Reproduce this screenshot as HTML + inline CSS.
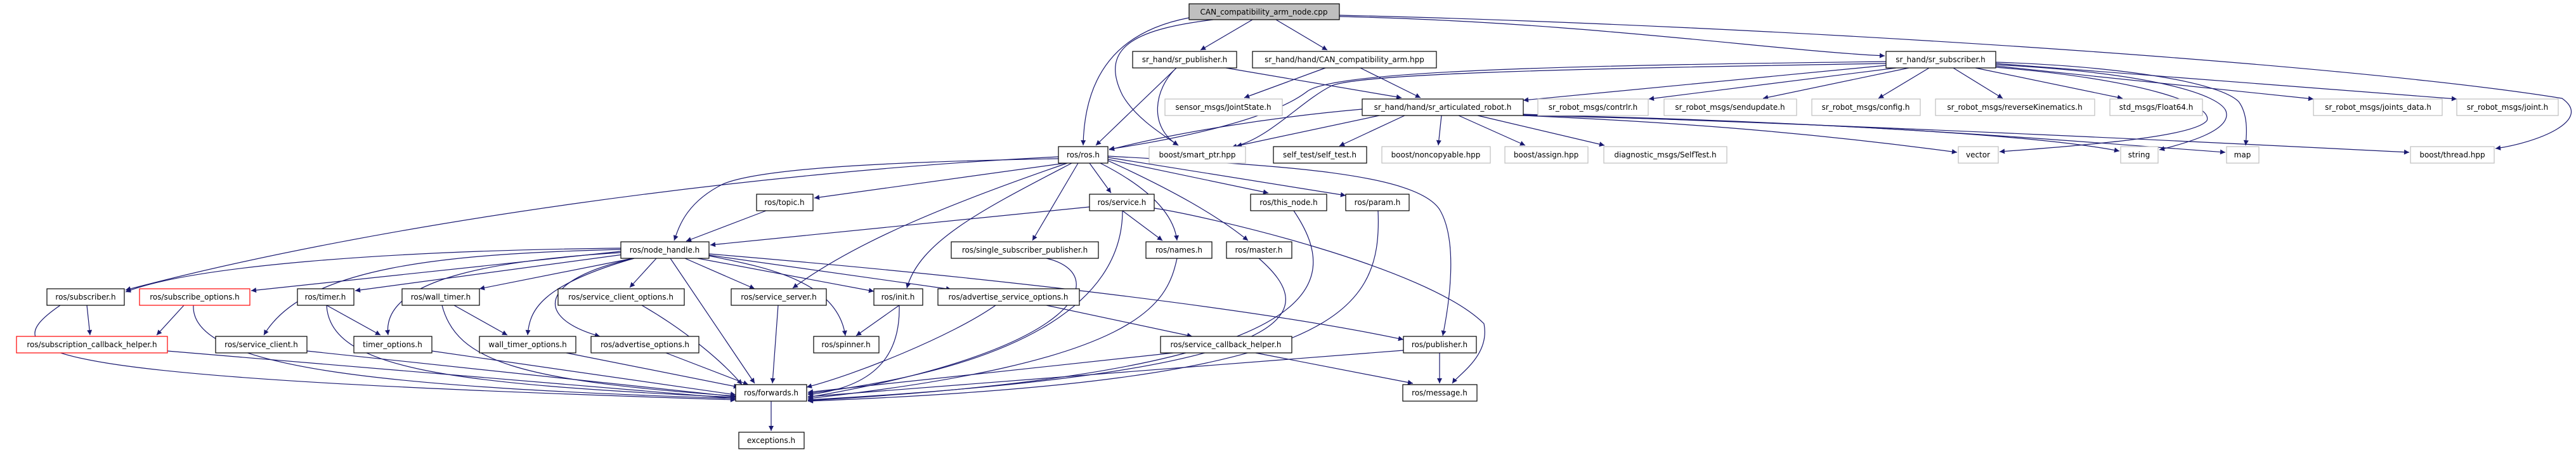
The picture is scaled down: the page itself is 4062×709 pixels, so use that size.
<!DOCTYPE html>
<html><head><meta charset="utf-8"><style>
html,body{margin:0;padding:0;background:#fff;}
svg{display:block;}
text{font-family:"DejaVu Sans","Liberation Sans",sans-serif;font-size:12px;fill:#000;text-anchor:middle;}
.e{fill:none;stroke:#191970;stroke-width:1.2;marker-end:url(#a);}
.n{fill:#fff;stroke:#000;stroke-width:1.2;}
.g{fill:#fff;stroke:#bfbfbf;stroke-width:1.2;}
.r{fill:#fff;stroke:#ff0000;stroke-width:1.2;}
</style></head><body>
<svg width="4062" height="709" viewBox="0 0 4062 709" xmlns="http://www.w3.org/2000/svg">
<defs><marker id="a" viewBox="0 0 10 10" refX="10" refY="5" markerWidth="11" markerHeight="8" markerUnits="userSpaceOnUse" orient="auto"><path d="M0,0L10,5L0,10z" fill="#191970"/></marker></defs>
<g>
<path class="e" d="M1975,31 L1893,79"/>
<path class="e" d="M2012,31 L2093,79"/>
<path class="e" d="M2112,26 C2500,35 2800,80 2972,88"/>
<path class="e" d="M2112,24 C2800,40 3700,100 4040,155 C4090,190 4000,225 3935,234"/>
<path class="e" d="M1875,28 C1760,50 1710,120 1708,229"/>
<path class="e" d="M1913,31 C1800,45 1730,70 1770,150 C1790,185 1830,210 1858,229"/>
<path class="e" d="M1855,107 L1728,229"/>
<path class="e" d="M1855,107 C1820,140 1810,200 1858,229"/>
<path class="e" d="M1933,107 L2210,154"/>
<path class="e" d="M2090,107 L1962,154"/>
<path class="e" d="M2145,107 L2240,154"/>
<path class="e" d="M2974,100 C2500,108 2150,115 2100,135 C2050,160 2000,220 1942,232"/>
<path class="e" d="M2974,97 C2500,103 2100,110 2060,145 C2000,190 1850,220 1749,235"/>
<path class="e" d="M2974,103 L2402,158"/>
<path class="e" d="M2990,107 L2600,156"/>
<path class="e" d="M3010,107 L2780,155"/>
<path class="e" d="M3042,107 L2962,155"/>
<path class="e" d="M3080,107 L3158,155"/>
<path class="e" d="M3115,107 L3347,155"/>
<path class="e" d="M3147,104 L3648,156"/>
<path class="e" d="M3147,100 L3874,156"/>
<path class="e" d="M3147,102 C3400,115 3500,150 3510,175 C3520,205 3450,225 3405,236"/>
<path class="e" d="M3147,98 C3350,105 3500,130 3530,160 C3545,180 3543,210 3541,229"/>
<path class="e" d="M3147,106 C3380,125 3490,165 3480,190 C3460,215 3300,228 3153,239"/>
<path class="e" d="M2148,172 C2000,185 1850,210 1749,236"/>
<path class="e" d="M2175,182 L1950,230"/>
<path class="e" d="M2215,182 L2112,230"/>
<path class="e" d="M2273,182 L2268,229"/>
<path class="e" d="M2300,182 L2405,229"/>
<path class="e" d="M2330,182 L2530,229"/>
<path class="e" d="M2402,182 C2700,195 2900,215 3086,240"/>
<path class="e" d="M2402,182 C2800,190 3200,210 3342,238"/>
<path class="e" d="M2402,181 C2900,190 3300,225 3509,240"/>
<path class="e" d="M2402,180 C3000,200 3500,225 3799,240"/>
<path class="e" d="M1669,250 C1400,255 1200,265 1140,290 C1080,320 1070,360 1063,379"/>
<path class="e" d="M1669,247 C1200,270 600,350 198,457"/>
<path class="e" d="M1680,257 L1284,312"/>
<path class="e" d="M1718,257 L1752,304"/>
<path class="e" d="M1700,257 L1628,379"/>
<path class="e" d="M1683,257 C1500,320 1350,380 1250,454"/>
<path class="e" d="M1690,257 C1550,330 1450,380 1430,454"/>
<path class="e" d="M1735,257 C1800,290 1850,330 1856,379"/>
<path class="e" d="M1747,253 C1850,300 1920,340 1968,379"/>
<path class="e" d="M1747,251 L2000,304"/>
<path class="e" d="M1747,248 L2122,308"/>
<path class="e" d="M1747,246 C2000,260 2230,270 2270,330 C2300,380 2285,480 2275,529"/>
<path class="e" d="M1208,332 L1082,380"/>
<path class="e" d="M1718,326 L1120,386"/>
<path class="e" d="M1770,332 L1833,379"/>
<path class="e" d="M1770,332 C1770,480 1600,580 1274,620"/>
<path class="e" d="M1820,328 C1900,340 2250,420 2340,510 C2350,560 2300,590 2290,604"/>
<path class="e" d="M1856,407 C1840,480 1800,570 1274,628"/>
<path class="e" d="M1985,407 C2080,490 2080,585 1274,630"/>
<path class="e" d="M2040,332 C2120,450 2100,585 1274,631"/>
<path class="e" d="M2173,332 C2180,500 2100,600 1274,632"/>
<path class="e" d="M1650,407 C1750,430 1720,550 1274,626"/>
<path class="e" d="M1418,481 L1350,529"/>
<path class="e" d="M1418,481 C1420,560 1380,610 1274,622"/>
<path class="e" d="M1227,481 L1218,604"/>
<path class="e" d="M1570,481 C1500,530 1350,590 1272,610"/>
<path class="e" d="M1650,481 L1880,530"/>
<path class="e" d="M1850,556 L1274,618"/>
<path class="e" d="M1980,556 L2228,604"/>
<path class="e" d="M2213,552 L1274,625"/>
<path class="e" d="M2270,556 L2270,604"/>
<path class="e" d="M1216,632 L1216,679"/>
<path class="e" d="M979,391 C600,395 300,420 198,460"/>
<path class="e" d="M979,396 L396,458"/>
<path class="e" d="M990,400 L560,458"/>
<path class="e" d="M998,407 L756,455"/>
<path class="e" d="M1035,407 L993,453"/>
<path class="e" d="M979,393 C700,400 480,420 416,528"/>
<path class="e" d="M979,398 C780,410 600,440 612,528"/>
<path class="e" d="M1000,407 C850,450 835,490 832,528"/>
<path class="e" d="M1000,407 C850,440 840,500 946,530"/>
<path class="e" d="M1057,407 L1190,604"/>
<path class="e" d="M1080,407 L1190,455"/>
<path class="e" d="M1100,407 L1378,459"/>
<path class="e" d="M1118,403 C1200,420 1320,440 1333,529"/>
<path class="e" d="M1118,402 L1500,456"/>
<path class="e" d="M1118,400 C1600,440 2000,490 2213,535"/>
<path class="e" d="M137,481 L142,528"/>
<path class="e" d="M95,481 C-20,560 50,595 1160,630"/>
<path class="e" d="M290,481 L247,528"/>
<path class="e" d="M305,481 C300,580 600,610 1160,628"/>
<path class="e" d="M515,481 L600,528"/>
<path class="e" d="M515,481 C520,580 700,605 1160,626"/>
<path class="e" d="M716,481 L800,528"/>
<path class="e" d="M697,481 C720,570 820,600 1160,624"/>
<path class="e" d="M1012,481 C1080,520 1140,570 1170,606"/>
<path class="e" d="M264,553 C700,590 1000,615 1160,628"/>
<path class="e" d="M484,553 L1160,625"/>
<path class="e" d="M681,553 L1160,622"/>
<path class="e" d="M893,556 L1165,610"/>
<path class="e" d="M1050,556 L1180,606"/>
</g>
<g>
<rect x="1875" y="6" width="237" height="25" fill="#bfbfbf" stroke="#000" stroke-width="1.2"/><text x="1993" y="23">CAN_compatibility_arm_node.cpp</text>
<rect class="n" x="1786" y="81" width="164" height="26"/><text x="1868" y="98">sr_hand/sr_publisher.h</text>
<rect class="n" x="1975" y="81" width="290" height="26"/><text x="2120" y="98">sr_hand/hand/CAN_compatibility_arm.hpp</text>
<rect class="n" x="2974" y="81" width="173" height="26"/><text x="3060" y="98">sr_hand/sr_subscriber.h</text>
<rect class="g" x="1837" y="156" width="185" height="26"/><text x="1929" y="173">sensor_msgs/JointState.h</text>
<rect class="n" x="2148" y="156" width="254" height="26"/><text x="2275" y="173">sr_hand/hand/sr_articulated_robot.h</text>
<rect class="g" x="2425" y="156" width="174" height="26"/><text x="2512" y="173">sr_robot_msgs/contrlr.h</text>
<rect class="g" x="2624" y="156" width="209" height="26"/><text x="2728" y="173">sr_robot_msgs/sendupdate.h</text>
<rect class="g" x="2857" y="156" width="171" height="26"/><text x="2942" y="173">sr_robot_msgs/config.h</text>
<rect class="g" x="3052" y="156" width="251" height="26"/><text x="3177" y="173">sr_robot_msgs/reverseKinematics.h</text>
<rect class="g" x="3327" y="156" width="146" height="26"/><text x="3400" y="173">std_msgs/Float64.h</text>
<rect class="g" x="3648" y="156" width="203" height="26"/><text x="3750" y="173">sr_robot_msgs/joints_data.h</text>
<rect class="g" x="3874" y="156" width="160" height="26"/><text x="3954" y="173">sr_robot_msgs/joint.h</text>
<rect class="n" x="1669" y="231" width="78" height="26"/><text x="1708" y="248">ros/ros.h</text>
<rect class="g" x="1812" y="231" width="152" height="26"/><text x="1888" y="248">boost/smart_ptr.hpp</text>
<rect class="n" x="2008" y="231" width="147" height="26"/><text x="2081" y="248">self_test/self_test.h</text>
<rect class="g" x="2179" y="231" width="171" height="26"/><text x="2264" y="248">boost/noncopyable.hpp</text>
<rect class="g" x="2373" y="231" width="131" height="26"/><text x="2438" y="248">boost/assign.hpp</text>
<rect class="g" x="2529" y="231" width="194" height="26"/><text x="2626" y="248">diagnostic_msgs/SelfTest.h</text>
<rect class="g" x="3088" y="231" width="63" height="26"/><text x="3119" y="248">vector</text>
<rect class="g" x="3344" y="231" width="59" height="26"/><text x="3373" y="248">string</text>
<rect class="g" x="3511" y="231" width="51" height="26"/><text x="3536" y="248">map</text>
<rect class="g" x="3801" y="231" width="132" height="26"/><text x="3867" y="248">boost/thread.hpp</text>
<rect class="n" x="1193" y="306" width="89" height="26"/><text x="1237" y="323">ros/topic.h</text>
<rect class="n" x="1718" y="306" width="102" height="26"/><text x="1769" y="323">ros/service.h</text>
<rect class="n" x="1972" y="306" width="120" height="26"/><text x="2032" y="323">ros/this_node.h</text>
<rect class="n" x="2122" y="306" width="100" height="26"/><text x="2172" y="323">ros/param.h</text>
<rect class="n" x="979" y="381" width="139" height="26"/><text x="1048" y="398">ros/node_handle.h</text>
<rect class="n" x="1500" y="381" width="232" height="26"/><text x="1616" y="398">ros/single_subscriber_publisher.h</text>
<rect class="n" x="1807" y="381" width="104" height="26"/><text x="1859" y="398">ros/names.h</text>
<rect class="n" x="1934" y="381" width="103" height="26"/><text x="1985" y="398">ros/master.h</text>
<rect class="n" x="74" y="455" width="122" height="26"/><text x="135" y="472">ros/subscriber.h</text>
<rect class="r" x="220" y="455" width="174" height="26"/><text x="307" y="472">ros/subscribe_options.h</text>
<rect class="n" x="469" y="455" width="89" height="26"/><text x="513" y="472">ros/timer.h</text>
<rect class="n" x="634" y="455" width="122" height="26"/><text x="695" y="472">ros/wall_timer.h</text>
<rect class="n" x="880" y="455" width="199" height="26"/><text x="979" y="472">ros/service_client_options.h</text>
<rect class="n" x="1153" y="455" width="150" height="26"/><text x="1228" y="472">ros/service_server.h</text>
<rect class="n" x="1378" y="455" width="77" height="26"/><text x="1416" y="472">ros/init.h</text>
<rect class="n" x="1479" y="455" width="223" height="26"/><text x="1590" y="472">ros/advertise_service_options.h</text>
<rect class="r" x="26" y="530" width="238" height="26"/><text x="145" y="547">ros/subscription_callback_helper.h</text>
<rect class="n" x="340" y="530" width="144" height="26"/><text x="412" y="547">ros/service_client.h</text>
<rect class="n" x="558" y="530" width="123" height="26"/><text x="619" y="547">timer_options.h</text>
<rect class="n" x="756" y="530" width="152" height="26"/><text x="832" y="547">wall_timer_options.h</text>
<rect class="n" x="932" y="530" width="170" height="26"/><text x="1017" y="547">ros/advertise_options.h</text>
<rect class="n" x="1283" y="530" width="103" height="26"/><text x="1334" y="547">ros/spinner.h</text>
<rect class="n" x="1830" y="530" width="207" height="26"/><text x="1933" y="547">ros/service_callback_helper.h</text>
<rect class="n" x="2213" y="530" width="115" height="26"/><text x="2270" y="547">ros/publisher.h</text>
<rect class="n" x="1160" y="606" width="112" height="26"/><text x="1216" y="623">ros/forwards.h</text>
<rect class="n" x="2212" y="606" width="117" height="26"/><text x="2270" y="623">ros/message.h</text>
<rect class="n" x="1165" y="681" width="103" height="26"/><text x="1216" y="698">exceptions.h</text>
</g>
</svg>
</body></html>
